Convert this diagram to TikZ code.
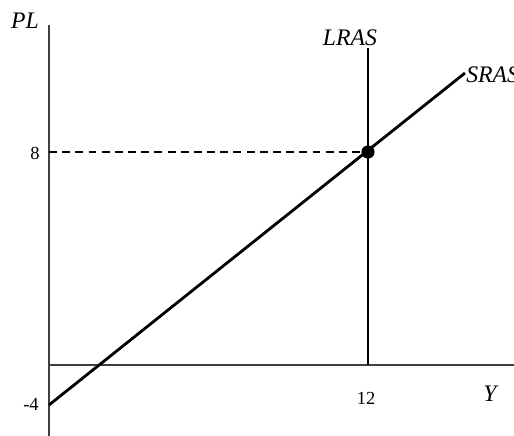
\documentclass[tikz,border=0pt]{standalone}
\usepackage{fontspec}
\setmainfont{Liberation Serif}
\usetikzlibrary{positioning}

\begin{document}
\begin{tikzpicture}[
  x=0.02cm, y=-0.02cm,
  axis/.style={line width=0.6pt, black!75},
  curve/.style={line width=1.6pt},
  label/.style={font=\fontsize{13.5}{15}\selectfont\itshape, inner sep=0pt},
  tick/.style={font=\fontsize{10.5}{12}\selectfont, inner sep=0pt}
]
\useasboundingbox (0,0) rectangle (514,436);
% axes
\coordinate (ytop) at (49,25);
\coordinate (ybot) at (49,436);
\coordinate (x0) at (49,365);
\coordinate (xend) at (514,365);
\draw[axis] (ybot) -- (ytop);
\draw[axis] (x0) -- (xend);
\node[label] (pl) at (25,21) {PL};
\node[label] (y) at (490,394) {Y};
% curves
\coordinate (lrasbot) at (368,365);
\coordinate (lrastop) at (368,48);
\coordinate (srasbot) at (49,405);
\coordinate (srastop) at (465,73);
\draw[curve] (lrasbot) -- (lrastop);
\draw[curve] (srasbot) -- (srastop);
\node[label] (lras) at (350,38) {LRAS};
\node[label, anchor=west] (sras) at (466,75) {SRAS};
% equilibrium
\node[circle, fill, inner sep=0pt, minimum size=7.5pt] (eq) at (368,152) {};
\coordinate (eqaxis) at (49,152);
\draw[line width=0.9pt, dash pattern=on 4.5pt off 3pt] (eqaxis) -- (eq);
\node[tick] (p8) at (35,153) {8};
\node[tick] (pm4) at (31,404) {-4};
\node[tick] (y12) at (366,398) {12};
\end{tikzpicture}
\end{document}
